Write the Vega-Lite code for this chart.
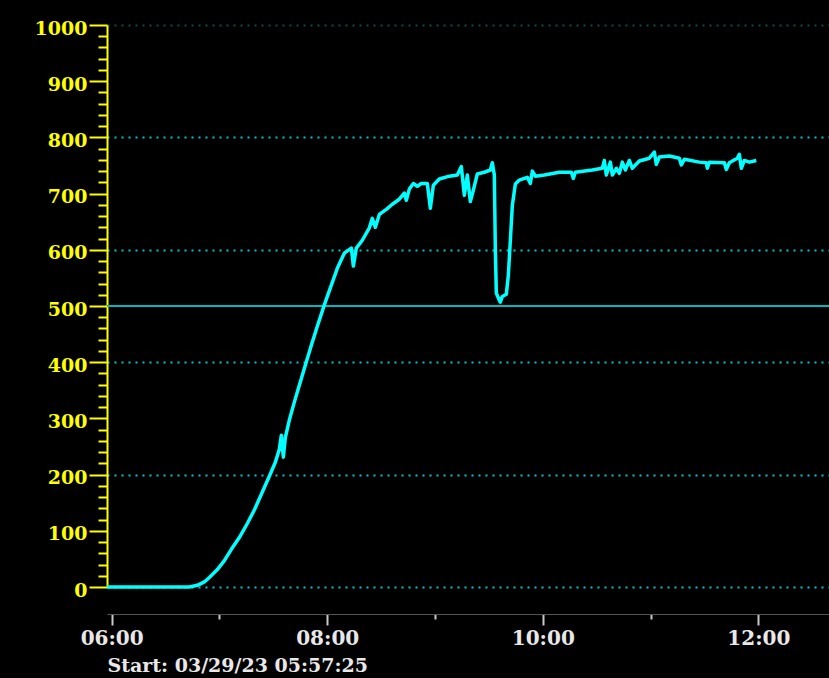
{
  "$schema": "https://vega.github.io/schema/vega-lite/v6.json",
  "width": 722,
  "height": 562,
  "autosize": {"type": "none"},
  "padding": {"left": 107, "top": 25, "right": 0, "bottom": 91},
  "background": "#000000",
  "config": {"view": {"stroke": null}},
  "layer": [
    {
      "data": {"values": [{"v": 500}]},
      "mark": {"type": "rule", "color": "#00b8c0", "strokeWidth": 2},
      "encoding": {"y": {
          "field": "v",
          "type": "quantitative",
          "scale": {"domain": [0, 1000], "nice": false},
          "axis": {
            "title": null,
            "values": [0, 20, 40, 60, 80, 100, 120, 140, 160, 180, 200, 220, 240, 260, 280, 300, 320, 340, 360, 380, 400, 420, 440, 460, 480, 500, 520, 540, 560, 580, 600, 620, 640, 660, 680, 700, 720, 740, 760, 780, 800, 820, 840, 860, 880, 900, 920, 940, 960, 980, 1000],
            "labelExpr": "datum.value % 100 == 0 ? format(datum.value, 'd') : ''",
            "domainColor": "#ffff00",
            "domainWidth": 2,
            "tickColor": "#ffff00",
            "tickWidth": 2,
            "tickSize": {"condition": {"test": "datum.value % 100 == 0", "value": 18}, "value": 9},
            "labelColor": "#ffff00",
            "labelFont": "DejaVu Serif",
            "labelFontWeight": "bold",
            "labelFontSize": 19,
            "labelPadding": 2,
            "labelOffset": 3,
            "labelOverlap": false,
            "labelFlush": false,
            "labelBound": false,
            "grid": true,
            "gridColor": {"condition": {"test": "datum.value == 1000", "value": "#0b4d4d"}, "value": "#00c8c8"},
            "gridOpacity": {"condition": {"test": "datum.value % 200 == 0", "value": 1}, "value": 0},
            "gridDash": [2, 5],
            "gridWidth": 2
          }
        }}
    },
    {
      "data": {"values": [
        {"t": "2023-03-29T05:57:25", "v": 0},
        {"t": "2023-03-29T06:20:59", "v": 0},
        {"t": "2023-03-29T06:43:15", "v": 0},
        {"t": "2023-03-29T06:47:42", "v": 3},
        {"t": "2023-03-29T06:51:36", "v": 9},
        {"t": "2023-03-29T06:54:23", "v": 17},
        {"t": "2023-03-29T06:58:50", "v": 31},
        {"t": "2023-03-29T07:02:44", "v": 47},
        {"t": "2023-03-29T07:06:38", "v": 67},
        {"t": "2023-03-29T07:11:05", "v": 88},
        {"t": "2023-03-29T07:15:32", "v": 113},
        {"t": "2023-03-29T07:19:26", "v": 137},
        {"t": "2023-03-29T07:23:20", "v": 165},
        {"t": "2023-03-29T07:27:47", "v": 197},
        {"t": "2023-03-29T07:31:08", "v": 222},
        {"t": "2023-03-29T07:33:21", "v": 245},
        {"t": "2023-03-29T07:34:28", "v": 270},
        {"t": "2023-03-29T07:35:35", "v": 231},
        {"t": "2023-03-29T07:36:42", "v": 266},
        {"t": "2023-03-29T07:38:55", "v": 297},
        {"t": "2023-03-29T07:41:42", "v": 329},
        {"t": "2023-03-29T07:44:29", "v": 359},
        {"t": "2023-03-29T07:47:16", "v": 389},
        {"t": "2023-03-29T07:51:10", "v": 430},
        {"t": "2023-03-29T07:54:30", "v": 464},
        {"t": "2023-03-29T07:58:24", "v": 502},
        {"t": "2023-03-29T08:02:18", "v": 537},
        {"t": "2023-03-29T08:05:38", "v": 567},
        {"t": "2023-03-29T08:09:32", "v": 594},
        {"t": "2023-03-29T08:13:26", "v": 603},
        {"t": "2023-03-29T08:14:33", "v": 571},
        {"t": "2023-03-29T08:16:13", "v": 603},
        {"t": "2023-03-29T08:19:33", "v": 617},
        {"t": "2023-03-29T08:23:27", "v": 639},
        {"t": "2023-03-29T08:25:07", "v": 656},
        {"t": "2023-03-29T08:26:48", "v": 640},
        {"t": "2023-03-29T08:29:01", "v": 663},
        {"t": "2023-03-29T08:32:55", "v": 672},
        {"t": "2023-03-29T08:36:15", "v": 681},
        {"t": "2023-03-29T08:40:09", "v": 690},
        {"t": "2023-03-29T08:42:56", "v": 701},
        {"t": "2023-03-29T08:44:03", "v": 688},
        {"t": "2023-03-29T08:45:43", "v": 708},
        {"t": "2023-03-29T08:47:57", "v": 718},
        {"t": "2023-03-29T08:50:10", "v": 713},
        {"t": "2023-03-29T08:52:24", "v": 718},
        {"t": "2023-03-29T08:55:44", "v": 718},
        {"t": "2023-03-29T08:57:25", "v": 674},
        {"t": "2023-03-29T08:59:05", "v": 715},
        {"t": "2023-03-29T09:02:25", "v": 726},
        {"t": "2023-03-29T09:07:59", "v": 731},
        {"t": "2023-03-29T09:12:26", "v": 733},
        {"t": "2023-03-29T09:14:40", "v": 748},
        {"t": "2023-03-29T09:16:20", "v": 697},
        {"t": "2023-03-29T09:18:00", "v": 733},
        {"t": "2023-03-29T09:19:41", "v": 686},
        {"t": "2023-03-29T09:21:21", "v": 706},
        {"t": "2023-03-29T09:23:34", "v": 735},
        {"t": "2023-03-29T09:27:28", "v": 738},
        {"t": "2023-03-29T09:30:49", "v": 742},
        {"t": "2023-03-29T09:31:55", "v": 755},
        {"t": "2023-03-29T09:33:02", "v": 733},
        {"t": "2023-03-29T09:33:36", "v": 599},
        {"t": "2023-03-29T09:34:09", "v": 523},
        {"t": "2023-03-29T09:35:49", "v": 510},
        {"t": "2023-03-29T09:36:23", "v": 507},
        {"t": "2023-03-29T09:37:29", "v": 517},
        {"t": "2023-03-29T09:39:43", "v": 521},
        {"t": "2023-03-29T09:40:50", "v": 555},
        {"t": "2023-03-29T09:41:57", "v": 617},
        {"t": "2023-03-29T09:43:03", "v": 679},
        {"t": "2023-03-29T09:44:44", "v": 717},
        {"t": "2023-03-29T09:46:57", "v": 724},
        {"t": "2023-03-29T09:51:24", "v": 729},
        {"t": "2023-03-29T09:53:05", "v": 718},
        {"t": "2023-03-29T09:54:12", "v": 740},
        {"t": "2023-03-29T09:55:52", "v": 731},
        {"t": "2023-03-29T10:00:52", "v": 733},
        {"t": "2023-03-29T10:09:13", "v": 738},
        {"t": "2023-03-29T10:15:54", "v": 738},
        {"t": "2023-03-29T10:17:01", "v": 727},
        {"t": "2023-03-29T10:18:08", "v": 738},
        {"t": "2023-03-29T10:27:35", "v": 742},
        {"t": "2023-03-29T10:33:09", "v": 745},
        {"t": "2023-03-29T10:34:16", "v": 759},
        {"t": "2023-03-29T10:35:23", "v": 733},
        {"t": "2023-03-29T10:37:37", "v": 756},
        {"t": "2023-03-29T10:38:43", "v": 733},
        {"t": "2023-03-29T10:40:57", "v": 745},
        {"t": "2023-03-29T10:42:37", "v": 736},
        {"t": "2023-03-29T10:44:17", "v": 756},
        {"t": "2023-03-29T10:45:58", "v": 742},
        {"t": "2023-03-29T10:48:11", "v": 759},
        {"t": "2023-03-29T10:49:51", "v": 745},
        {"t": "2023-03-29T10:53:45", "v": 758},
        {"t": "2023-03-29T10:59:19", "v": 763},
        {"t": "2023-03-29T11:02:06", "v": 774},
        {"t": "2023-03-29T11:03:13", "v": 752},
        {"t": "2023-03-29T11:04:53", "v": 765},
        {"t": "2023-03-29T11:10:27", "v": 767},
        {"t": "2023-03-29T11:16:01", "v": 763},
        {"t": "2023-03-29T11:17:08", "v": 751},
        {"t": "2023-03-29T11:18:48", "v": 761},
        {"t": "2023-03-29T11:27:09", "v": 756},
        {"t": "2023-03-29T11:31:03", "v": 755},
        {"t": "2023-03-29T11:31:36", "v": 745},
        {"t": "2023-03-29T11:32:43", "v": 756},
        {"t": "2023-03-29T11:41:04", "v": 755},
        {"t": "2023-03-29T11:42:11", "v": 743},
        {"t": "2023-03-29T11:43:51", "v": 755},
        {"t": "2023-03-29T11:48:18", "v": 763},
        {"t": "2023-03-29T11:49:25", "v": 770},
        {"t": "2023-03-29T11:50:32", "v": 745},
        {"t": "2023-03-29T11:52:12", "v": 759},
        {"t": "2023-03-29T11:54:59", "v": 756},
        {"t": "2023-03-29T11:58:53", "v": 759}
      ]},
      "mark": {"type": "line", "color": "#00ffff", "strokeWidth": 3.5, "strokeJoin": "round"},
      "encoding": {
        "x": {
          "field": "t",
          "type": "temporal",
          "scale": {"domain": [
            {"year": 2023, "month": 3, "date": 29, "hours": 5, "minutes": 57, "seconds": 25},
            {"year": 2023, "month": 3, "date": 29, "hours": 12, "minutes": 39, "seconds": 20}
          ]},
          "axis": {
            "title": "Start: 03/29/23 05:57:25",
            "titleAnchor": "start",
            "titleAlign": "left",
            "titleBaseline": "top",
            "titleColor": "#e8e8e8",
            "titleFont": "DejaVu Serif",
            "titleFontWeight": "bold",
            "titleFontSize": 19,
            "titlePadding": 8,
            "values": [
              {"year": 2023, "month": 3, "date": 29, "hours": 6},
              {"year": 2023, "month": 3, "date": 29, "hours": 7},
              {"year": 2023, "month": 3, "date": 29, "hours": 8},
              {"year": 2023, "month": 3, "date": 29, "hours": 9},
              {"year": 2023, "month": 3, "date": 29, "hours": 10},
              {"year": 2023, "month": 3, "date": 29, "hours": 11},
              {"year": 2023, "month": 3, "date": 29, "hours": 12}
            ],
            "labelExpr": "hours(datum.value) % 2 == 0 ? timeFormat(datum.value, '%H:%M') : ''",
            "offset": 27,
            "grid": false,
            "domainColor": "#555555",
            "domainWidth": 1,
            "tickColor": "#c8c8c8",
            "tickWidth": 2,
            "tickSize": {"condition": {"test": "hours(datum.value) % 2 == 0", "value": 11}, "value": 5},
            "labelColor": "#e8e8e8",
            "labelFont": "DejaVu Serif",
            "labelFontWeight": "bold",
            "labelFontSize": 20,
            "labelPadding": 3,
            "labelOverlap": false,
            "labelFlush": false
          }
        },
        "y": {
          "field": "v",
          "type": "quantitative",
          "scale": {"domain": [0, 1000], "nice": false},
          "axis": {
            "title": null,
            "values": [0, 20, 40, 60, 80, 100, 120, 140, 160, 180, 200, 220, 240, 260, 280, 300, 320, 340, 360, 380, 400, 420, 440, 460, 480, 500, 520, 540, 560, 580, 600, 620, 640, 660, 680, 700, 720, 740, 760, 780, 800, 820, 840, 860, 880, 900, 920, 940, 960, 980, 1000],
            "labelExpr": "datum.value % 100 == 0 ? format(datum.value, 'd') : ''",
            "domainColor": "#ffff00",
            "domainWidth": 2,
            "tickColor": "#ffff00",
            "tickWidth": 2,
            "tickSize": {"condition": {"test": "datum.value % 100 == 0", "value": 18}, "value": 9},
            "labelColor": "#ffff00",
            "labelFont": "DejaVu Serif",
            "labelFontWeight": "bold",
            "labelFontSize": 19,
            "labelPadding": 2,
            "labelOffset": 3,
            "labelOverlap": false,
            "labelFlush": false,
            "labelBound": false,
            "grid": true,
            "gridColor": {"condition": {"test": "datum.value == 1000", "value": "#0b4d4d"}, "value": "#00c8c8"},
            "gridOpacity": {"condition": {"test": "datum.value % 200 == 0", "value": 1}, "value": 0},
            "gridDash": [2, 5],
            "gridWidth": 2
          }
        }
      }
    }
  ]
}
